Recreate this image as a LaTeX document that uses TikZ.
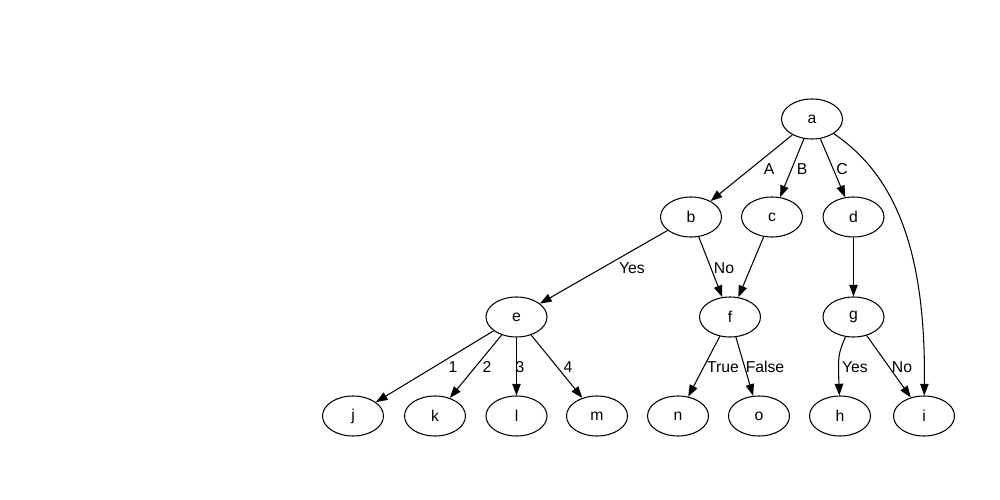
\documentclass[tikz,border=0pt]{standalone}
\usepackage{fontspec}
\setmainfont{Liberation Sans}
\usepackage{tikz}
\usetikzlibrary{shapes,arrows.meta,positioning}

\begin{document}
\begin{tikzpicture}[x=0.25mm, y=0.25mm,
  vertex/.style={draw, ellipse, line width=0.75pt, minimum width=15.25mm, minimum height=10mm, inner sep=0pt, font=\fontsize{11.2}{13}\selectfont},
  edge/.style={draw, line width=0.75pt, -{Triangle[length=8.3pt, width=6pt]}},
  lbl/.style={inner sep=0pt, font=\fontsize{11.2}{13}\selectfont}]
  \useasboundingbox (0,0) rectangle (1000,-500);

  % Top row
  \node[vertex] (a) at (812,-119) {a};
  \node[vertex] (b) at (691,-217) {b};
  \node[vertex] (c) at (772,-217) {c};
  \node[vertex] (d) at (853.5,-217) {d};

  % Middle row
  \node[vertex] (e) at (516.5,-317) {e};
  \node[vertex] (f) at (730,-317) {f};
  \node[vertex] (g) at (853.5,-317) {g};

  % Leaves
  \node[vertex] (j) at (353,-416) {j};
  \node[vertex] (k) at (435,-416) {k};
  \node[vertex] (l) at (516.5,-416) {l};
  \node[vertex] (m) at (597,-416) {m};
  \node[vertex] (n) at (678,-416) {n};
  \node[vertex] (o) at (759,-416) {o};
  \node[vertex] (h) at (840,-416) {h};
  \node[vertex] (i) at (924,-416) {i};

  % Edges from a
  \draw[edge] (a) -- (b) node[lbl] at (769,-169) {A};
  \draw[edge] (a) -- (c) node[lbl] at (802,-169) {B};
  \draw[edge] (a) -- (d) node[lbl] at (842,-169) {C};
  \draw[edge] (a) .. controls (895,-175) and (926,-250) .. (i);

  % Edges to e and f
  \draw[edge] (b) -- (e) node[lbl] at (632,-268) {Yes};
  \draw[edge] (b) -- (f) node[lbl] at (724,-268) {No};
  \draw[edge] (c) -- (f);
  \draw[edge] (d) -- (g);

  % Edges from e
  \draw[edge] (e) -- (j) node[lbl] at (453,-367) {1};
  \draw[edge] (e) -- (k) node[lbl] at (487,-367) {2};
  \draw[edge] (e) -- (l) node[lbl] at (520,-367) {3};
  \draw[edge] (e) -- (m) node[lbl] at (568,-367) {4};

  % Edges from f and g
  \draw[edge] (f) -- (n) node[lbl] at (723,-367) {True};
  \draw[edge] (f) -- (o) node[lbl] at (765,-367) {False};
  \draw[edge] (g) .. controls (838,-355) .. (h) node[lbl] at (855,-367) {Yes};
  \draw[edge] (g) -- (i) node[lbl] at (902,-367) {No};
\end{tikzpicture}
\end{document}
